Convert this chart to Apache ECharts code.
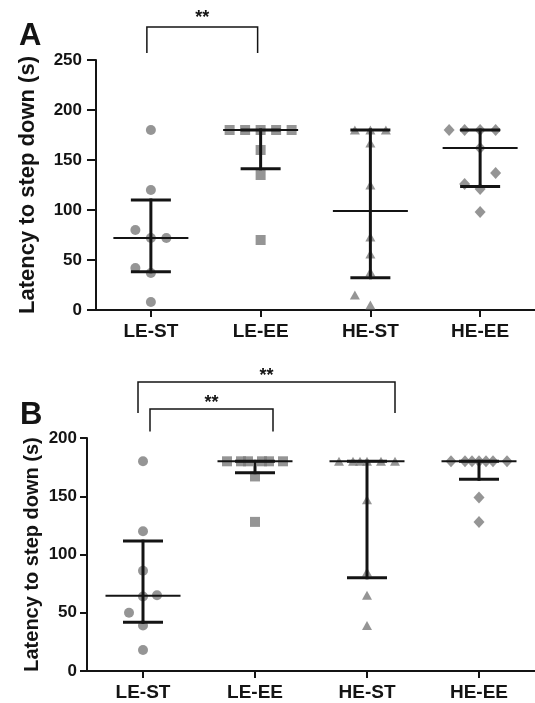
<!DOCTYPE html>
<html>
<head>
<meta charset="utf-8">
<title>Latency to step down</title>
<script src="https://cdn.jsdelivr.net/npm/echarts@6/dist/echarts.min.js"></script>
<style>
  html, body { margin: 0; padding: 0; background: #fff; }
  #chart { width: 535px; height: 703px; }
</style>
</head>
<body>
<div id="chart"></div>
<script>
// groups on the x axis
var groups = ['LE-ST', 'LE-EE', 'HE-ST', 'HE-EE'];

// panel A, latency (s) of each animal
var aLEST = [180, 120, 80, 72, 72, 42, 37, 8];
var aLEEE = [180, 180, 180, 180, 180, 160, 135, 70];
var aHEST = [180, 180, 180, 167, 125, 73, 56, 38, 15, 5];
var aHEEE = [180, 180, 180, 180, 162, 137, 126, 121, 98];

// panel B
var bLEST = [180, 120, 86, 65, 64, 50, 39, 18];
var bLEEE = [180, 180, 180, 180, 180, 180, 167, 128];
var bHEST = [180, 180, 180, 180, 180, 180, 147, 85, 65, 39];
var bHEEE = [180, 180, 180, 180, 180, 180, 180, 149, 128];

// y axis ranges
var aYMax = 250, bYMax = 200, yStep = 50;

// significance brackets: [from group, to group, top, leg end, label]
var aBrackets = [[0, 1, 283, 257, '**']];
var bBrackets = [[0, 2, 248, 221.5, '**'], [0, 1, 225, 205.5, '**']];

// ---- styles / layout ----
var FONT = 'Liberation Sans, Arial, sans-serif';
var INK = '#141414';
var DOT = '#7b7b7b';
var symbols = ['circle', 'rect', 'triangle', 'diamond'];
var symSizes = [10, 10, [10, 9], [11, 12]];
var swarmGap = [16.5, 16.5, 12, 16.5];   // vertical clearance in px
var gridA = {left: 96, top: 60, width: 440, height: 250};
var gridB = {left: 87, top: 438, width: 448, height: 233};
// pixel nudges of the bracket legs
var aNudge = [[-4, -3]];
var bNudge = [[-5, 28], [7, 18]];

// quartile, n+1 method
function quant(arr, p) {
    var s = arr.slice().sort(function (a, b) { return a - b; });
    var n = s.length, pos = (n + 1) * p, lo = Math.floor(pos), f = pos - lo;
    if (lo < 1) return s[0];
    if (lo >= n) return s[n - 1];
    return s[lo - 1] + f * (s[lo] - s[lo - 1]);
}

// simple beeswarm: ascending, nearest free column, ties alternate left/right
function swarm(vals, pxPerUnit, gap) {
    var order = vals.map(function (v, i) { return i; })
        .sort(function (a, b) { return vals[a] - vals[b]; });
    var placed = [], slot = new Array(vals.length), ties = 0;
    var levels = [0, 1, 2, 0.5, 1.5];
    order.forEach(function (i) {
        var y = vals[i] * pxPerUnit;
        function free(s) {
            return placed.every(function (p) { return p.s !== s || Math.abs(p.y - y) >= gap; });
        }
        var chosen = 0;
        for (var k = 0; k < levels.length; k++) {
            var lv = levels[k];
            if (lv === 0) { if (free(0)) { chosen = 0; break; } continue; }
            var L = free(-lv), R = free(lv);
            if (L && R) { chosen = (ties % 2 === 0) ? -lv : lv; ties++; break; }
            if (L) { chosen = -lv; break; }
            if (R) { chosen = lv; break; }
        }
        slot[i] = chosen;
        placed.push({s: chosen, y: y});
    });
    return slot;
}

function pointSeries(panel, gi, vals, pxPerUnit, step) {
    var slots = swarm(vals, pxPerUnit, swarmGap[gi]);
    return {
        type: 'scatter',
        xAxisIndex: panel, yAxisIndex: panel,
        symbol: symbols[gi],
        symbolSize: symSizes[gi],
        itemStyle: {color: DOT},
        z: 2,
        silent: true,
        data: vals.map(function (v, i) {
            return {value: [gi, v], symbolOffset: [slots[i] * step, 0]};
        })
    };
}

function seg(x1, y1, x2, y2, w) {
    return {type: 'line', shape: {x1: x1, y1: y1, x2: x2, y2: y2},
        style: {stroke: INK, lineWidth: w, lineCap: 'butt'}};
}

function barSeries(panel, sets) {
    return {
        type: 'custom',
        xAxisIndex: panel, yAxisIndex: panel,
        z: 3, silent: true,
        encode: {x: 0, y: [1, 2, 3]},
        data: sets.map(function (s, i) {
            return [i, quant(s, 0.5), quant(s, 0.25), quant(s, 0.75)];
        }),
        renderItem: function (params, api) {
            var x = api.value(0);
            var m = api.coord([x, api.value(1)]);
            var lo = api.coord([x, api.value(2)]);
            var hi = api.coord([x, api.value(3)]);
            return {type: 'group', children: [
                seg(lo[0], hi[1] - 1.5, lo[0], lo[1] + 1.5, 3),
                seg(lo[0] - 20, lo[1], lo[0] + 20, lo[1], 3),
                seg(hi[0] - 20, hi[1], hi[0] + 20, hi[1], 3),
                seg(m[0] - 37.5, m[1], m[0] + 37.5, m[1], 2)
            ]};
        }
    };
}

function bracketSeries(panel, list, nudge, starLift) {
    return {
        type: 'custom',
        xAxisIndex: panel, yAxisIndex: panel,
        clip: false, silent: true, z: 4,
        encode: {x: [0, 1]},
        data: list.map(function (b) { return [b[0], b[1], b[2], b[3]]; }),
        renderItem: function (params, api) {
            var i = params.dataIndex;
            var a = api.coord([api.value(0), api.value(2)]);
            var b = api.coord([api.value(1), api.value(3)]);
            var x0 = a[0] + nudge[i][0], x1 = b[0] + nudge[i][1];
            var top = a[1], leg = b[1];
            return {type: 'group', children: [
                {type: 'polyline', shape: {points: [[x0, leg], [x0, top], [x1, top], [x1, leg]]},
                    style: {stroke: INK, lineWidth: 1.5, fill: null}},
                {type: 'text', style: {text: list[i][4], x: (x0 + x1) / 2, y: top - starLift,
                    align: 'center', verticalAlign: 'middle',
                    font: 'bold 18px ' + FONT, fill: INK}}
            ]};
        }
    };
}

function xAxis(grid) {
    return {
        type: 'category', gridIndex: grid, data: groups, boundaryGap: true,
        axisLine: {show: true, lineStyle: {color: INK, width: 2}},
        axisTick: {show: true, alignWithLabel: true, length: 7, lineStyle: {color: INK, width: 2}},
        axisLabel: {color: INK, fontSize: 19, fontWeight: 'bold', fontFamily: FONT, margin: 12},
        splitLine: {show: false}
    };
}

function yAxis(grid, max, nameSize, nameGap, tickLen, labelMargin) {
    return {
        type: 'value', gridIndex: grid, min: 0, max: max, interval: yStep,
        name: 'Latency to step down (s)', nameLocation: 'middle', nameGap: nameGap,
        nameMoveOverlap: false,
        nameTextStyle: {color: INK, fontSize: nameSize, fontWeight: 'bold', fontFamily: FONT},
        axisLine: {show: true, lineStyle: {color: INK, width: 2}},
        axisTick: {show: true, length: tickLen, lineStyle: {color: INK, width: 2}},
        axisLabel: {color: INK, fontSize: 17, fontWeight: 'bold', fontFamily: FONT, margin: labelMargin},
        splitLine: {show: false}
    };
}

var myChart = echarts.init(document.getElementById('chart'), null, {renderer: 'canvas'});

var pxA = gridA.height / aYMax;
var pxB = gridB.height / bYMax;
var setsA = [aLEST, aLEEE, aHEST, aHEEE];
var setsB = [bLEST, bLEEE, bHEST, bHEEE];

var series = [];
setsA.forEach(function (s, gi) { series.push(pointSeries(0, gi, s, pxA, 15.5)); });
setsB.forEach(function (s, gi) { series.push(pointSeries(1, gi, s, pxB, 14)); });
series.push(barSeries(0, setsA));
series.push(barSeries(1, setsB));
series.push(bracketSeries(0, aBrackets, aNudge, 9));
series.push(bracketSeries(1, bBrackets, bNudge, 6));

var option = {
    backgroundColor: '#fff',
    animation: false,
    grid: [gridA, gridB],
    xAxis: [xAxis(0), xAxis(1)],
    yAxis: [yAxis(0, aYMax, 22, 57, 9, 14), yAxis(1, bYMax, 20, 45, 7, 10)],
    graphic: [
        {type: 'text', left: 19, top: 21, style: {text: 'A', font: 'bold 31px ' + FONT, fill: INK}},
        {type: 'text', left: 20, top: 400, style: {text: 'B', font: 'bold 31px ' + FONT, fill: INK}}
    ],
    series: series
};

myChart.setOption(option);
</script>
</body>
</html>
